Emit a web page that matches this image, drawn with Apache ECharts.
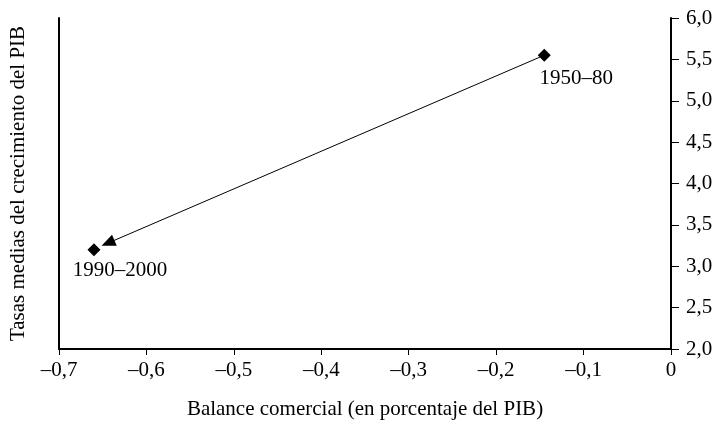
<!DOCTYPE html>
<html>
<head>
<meta charset="utf-8">
<script src="https://cdn.jsdelivr.net/npm/echarts@6/dist/echarts.min.js"></script>
<style>
  html, body { margin: 0; padding: 0; background: #fff; }
  #chart { width: 720px; height: 424px; }
</style>
</head>
<body>
<div id="chart"></div>
<script>
// periodos y valores (balance comercial, tasa media de crecimiento)
const periods = ['1950–80', '1990–2000']
const balance = [-0.145, -0.66]
const growth = [5.55, 3.2]
// punta de la flecha (cerca de 1990–2000)
const arrowEnd = [-0.644, 3.28]

const xTicks = [-0.7, -0.6, -0.5, -0.4, -0.3, -0.2, -0.1, 0]
const yTicks = [2.0, 2.5, 3.0, 3.5, 4.0, 4.5, 5.0, 5.5, 6.0]

const font = '"Liberation Serif", "DejaVu Serif", serif'
const ink = '#000'
const fs = 21

function fmtX(v) {
  if (Math.abs(v) < 1e-9) return '0'
  return (v < 0 ? '–' : '') + Math.abs(v).toFixed(1).replace('.', ',')
}
function fmtY(v) {
  return v.toFixed(1).replace('.', ',')
}

const chart = echarts.init(document.getElementById('chart'))

const points = periods.map((p, i) => ({ name: p, value: [balance[i], growth[i]] }))

chart.setOption({
  animation: false,
  grid: { left: 59, right: 49, top: 18, bottom: 75, outerBoundsMode: 'none' },
  xAxis: {
    type: 'value',
    min: xTicks[0],
    max: xTicks[xTicks.length - 1],
    interval: 0.1,
    name: 'Balance comercial (en porcentaje del PIB)',
    nameLocation: 'middle',
    nameGap: 50,
    nameTextStyle: { fontFamily: font, fontSize: fs, color: ink },
    axisLine: { lineStyle: { color: ink, width: 2 } },
    axisTick: { length: 6, lineStyle: { color: ink, width: 1 } },
    axisLabel: { formatter: fmtX, fontFamily: font, fontSize: fs, color: ink, margin: 11 },
    splitLine: { show: false }
  },
  yAxis: [
    {
      type: 'value',
      position: 'right',
      min: yTicks[0],
      max: yTicks[yTicks.length - 1],
      interval: 0.5,
      axisLine: { show: true, lineStyle: { color: ink, width: 2 } },
      axisTick: { show: true, length: 8, lineStyle: { color: ink, width: 1 } },
      axisLabel: { formatter: fmtY, fontFamily: font, fontSize: fs, color: ink, margin: 15 },
      splitLine: { show: false }
    },
    {
      type: 'value',
      position: 'left',
      min: yTicks[0],
      max: yTicks[yTicks.length - 1],
      name: 'Tasas medias del crecimiento del PIB',
      nameLocation: 'middle',
      nameGap: 30,
      nameTextStyle: { fontFamily: font, fontSize: fs, color: ink },
      axisLine: { show: true, lineStyle: { color: ink, width: 2 } },
      axisTick: { show: false },
      axisLabel: { show: false },
      splitLine: { show: false }
    }
  ],
  series: [
    {
      type: 'scatter',
      data: points,
      symbol: 'diamond',
      symbolSize: 13,
      itemStyle: { color: ink, opacity: 1 },
      label: {
        show: true,
        formatter: '{b}',
        position: 'bottom',
        fontFamily: font,
        fontSize: fs,
        color: ink
      },
      labelLayout: function (params) {
        return params.dataIndex === 0
          ? { dx: 32, dy: 1 }
          : { dx: 26, dy: -1 }
      },
      markLine: {
        silent: true,
        symbol: ['none', 'triangle'],
        symbolSize: [12, 14],
        label: { show: false },
        lineStyle: { color: ink, width: 1, type: 'solid' },
        data: [[
          { coord: [balance[0], growth[0]] },
          { coord: arrowEnd }
        ]]
      }
    }
  ]
})
</script>
</body>
</html>
